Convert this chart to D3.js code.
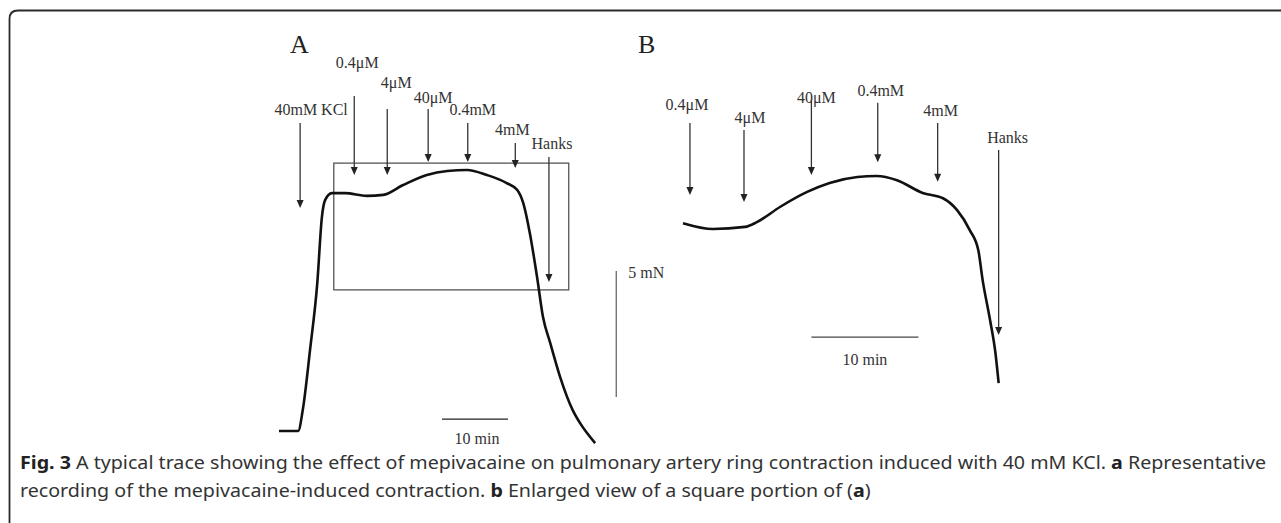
<!DOCTYPE html>
<html>
<head>
<meta charset="utf-8">
<script src="https://cdnjs.cloudflare.com/ajax/libs/d3/7.8.5/d3.min.js"></script>
<style>
  body { margin: 0; background: #fff; }
  svg { display: block; }
</style>
</head>
<body>
<div id="chart"></div>
<script>
// ---- data, panel A (time in min, tension in mN) ----
var traceAT = [0, 2.9, 3.6, 4.7, 5.8, 6.5, 7.0, 8.0, 10.0, 13.3, 15.8, 18.8, 22.4, 25.5, 28.5, 31.5, 34.5, 36.1, 37.0, 38.0, 39.1, 40.0, 41.1, 42.6, 44.5, 45.6, 47.9];
var traceAV = [0, 0, 0.83, 3.21, 5.87, 8.49, 9.17, 9.44, 9.44, 9.33, 9.37, 9.76, 10.16, 10.32, 10.36, 10.16, 9.84, 9.56, 9.05, 7.86, 6.11, 4.52, 3.49, 2.14, 0.83, 0.32, -0.48];

var arrowALabels = ["40mM KCl", "0.4\u03bcM", "4\u03bcM", "40\u03bcM", "0.4mM", "4mM", "Hanks"];
var arrowAT = [3.2, 11.4, 16.4, 22.6, 28.6, 35.8, 40.9];
var arrowATail = [12.22, 13.29, 12.78, 12.78, 12.22, 11.43, 10.87];
var arrowATip = [8.85, 10.16, 10.16, 10.67, 10.67, 10.44, 5.91];

// boxed portion shown enlarged in B
var boxAT = [8.3, 43.9];
var boxAV = [5.6, 10.63];

// ---- data, panel B ----
var traceBT = [0, 2.8, 5.8, 6.9, 9.1, 11.6, 13.7, 16.3, 18.1, 20.0, 22.4, 24.3, 25.6, 26.8, 27.6, 28.0, 28.7, 29.2, 29.5];
var traceBV = [9.47, 9.36, 9.40, 9.49, 9.78, 10.06, 10.23, 10.34, 10.36, 10.28, 10.04, 9.94, 9.72, 9.34, 8.96, 8.40, 7.64, 7.02, 6.45];

var arrowBLabels = ["0.4\u03bcM", "4\u03bcM", "40\u03bcM", "0.4mM", "4mM", "Hanks"];
var arrowBT = [0.65, 5.7, 12.0, 18.2, 23.8, 29.5];
var arrowBTail = [11.36, 11.23, 11.79, 11.74, 11.36, 10.85];
var arrowBTip = [10.0, 9.87, 10.38, 10.62, 10.25, 7.36];

// scale bars
var timeBar = 10;   // min
var forceBar = 5;   // mN

// label placement (px offsets from arrow tail), layout only
var labelADx = [11, 3, 9, 5, 5, -3, 3];
var labelADy = [-8, -28, -21, -6, -8, -8, -8];
var labelBDx = [-3, 6, 5, 3, 3, 9];
var labelBDy = [-13, -7, 3, -7, -7, -7];

var W = 1281, H = 523;
var svg = d3.select("#chart").append("svg")
    .attr("width", W)
    .attr("height", H);

// outer frame (rounded top-left, open to right / bottom)
svg.append("path")
    .attr("d", "M9.5,523 L9.5,19 Q9.5,10.5 18,10.5 L1281,10.5")
    .attr("fill", "none")
    .attr("stroke", "#2a2a2a")
    .attr("stroke-width", 1.8);

var serif = "'Liberation Serif', 'Times New Roman', serif";

// scales
var xA = d3.scaleLinear().domain([0, 50]).range([279, 279 + 50 * 6.6]);
var yA = d3.scaleLinear().domain([0, 10]).range([431, 431 - 252]);
var xB = d3.scaleLinear().domain([0, 30]).range([683, 683 + 30 * 10.7]);
var yB = d3.scaleLinear().domain([5, 11]).range([176 + 5.36 * 53, 176 - 0.64 * 53]);

var line = function (xs, ys) {
  return d3.line()
    .x(function (d) { return xs(d[0]); })
    .y(function (d) { return ys(d[1]); })
    .curve(d3.curveMonotoneX);
};

function drawArrows(g, labels, ts, tails, tips, xs, ys, ldx, ldy) {
  labels.forEach(function (lab, i) {
    var x = xs(ts[i]), y0 = ys(tails[i]), y1 = ys(tips[i]);
    g.append("line")
      .attr("x1", x).attr("x2", x)
      .attr("y1", y0).attr("y2", y1 - 6)
      .attr("stroke", "#333")
      .attr("stroke-width", 1.3);
    g.append("path")
      .attr("d", "M" + (x - 3.5) + "," + (y1 - 8) + " L" + (x + 3.5) + "," + (y1 - 8) + " L" + x + "," + y1 + " Z")
      .attr("fill", "#222");
    g.append("text")
      .attr("x", x + ldx[i])
      .attr("y", y0 + ldy[i])
      .attr("text-anchor", "middle")
      .attr("font-family", serif)
      .attr("font-size", 16)
      .attr("fill", "#333")
      .text(lab);
  });
}

// ---- panel A ----
var gA = svg.append("g");
gA.append("text").attr("x", 290).attr("y", 53)
  .attr("font-family", serif).attr("font-size", 26).attr("fill", "#222").text("A");

gA.append("rect")
  .attr("x", xA(boxAT[0])).attr("y", yA(boxAV[1]))
  .attr("width", xA(boxAT[1]) - xA(boxAT[0]))
  .attr("height", yA(boxAV[0]) - yA(boxAV[1]))
  .attr("fill", "none")
  .attr("stroke", "#555")
  .attr("stroke-width", 1.3);

drawArrows(gA, arrowALabels, arrowAT, arrowATail, arrowATip, xA, yA, labelADx, labelADy);

gA.append("path")
  .datum(d3.zip(traceAT, traceAV))
  .attr("d", line(xA, yA))
  .attr("fill", "none")
  .attr("stroke", "#111")
  .attr("stroke-width", 2.6);

// 5 mN bar
var fbX = xA(51.1), fbTop = yA(6.35);
gA.append("line")
  .attr("x1", fbX).attr("x2", fbX)
  .attr("y1", fbTop).attr("y2", fbTop + (yA(0) - yA(forceBar)))
  .attr("stroke", "#666").attr("stroke-width", 1.3);
gA.append("text").attr("x", fbX + 12).attr("y", fbTop + 7)
  .attr("font-family", serif).attr("font-size", 16).attr("fill", "#333").text(forceBar + " mN");

// 10 min bar A
var tbA0 = 24.7, tbAy = yA(-0.48) - 24;
gA.append("line")
  .attr("x1", xA(tbA0)).attr("x2", xA(tbA0 + timeBar))
  .attr("y1", tbAy).attr("y2", tbAy)
  .attr("stroke", "#222").attr("stroke-width", 1.3);
gA.append("text").attr("x", (xA(tbA0) + xA(tbA0 + timeBar)) / 2 + 2).attr("y", tbAy + 25)
  .attr("text-anchor", "middle")
  .attr("font-family", serif).attr("font-size", 16).attr("fill", "#333").text(timeBar + " min");

// ---- panel B ----
var gB = svg.append("g");
gB.append("text").attr("x", 638).attr("y", 53)
  .attr("font-family", serif).attr("font-size", 26).attr("fill", "#222").text("B");

drawArrows(gB, arrowBLabels, arrowBT, arrowBTail, arrowBTip, xB, yB, labelBDx, labelBDy);

gB.append("path")
  .datum(d3.zip(traceBT, traceBV))
  .attr("d", line(xB, yB))
  .attr("fill", "none")
  .attr("stroke", "#111")
  .attr("stroke-width", 2.6);

var tbB0 = 12.0, tbBy = yB(7.32);
gB.append("line")
  .attr("x1", xB(tbB0)).attr("x2", xB(tbB0 + timeBar))
  .attr("y1", tbBy).attr("y2", tbBy)
  .attr("stroke", "#444").attr("stroke-width", 1.3);
gB.append("text").attr("x", (xB(tbB0) + xB(tbB0 + timeBar)) / 2).attr("y", tbBy + 28)
  .attr("text-anchor", "middle")
  .attr("font-family", serif).attr("font-size", 16).attr("fill", "#333").text(timeBar + " min");

// ---- caption ----
var sans = "'Noto Sans', 'Open Sans', sans-serif";
var capG = svg.append("g");
var cap1 = capG.append("text").attr("x", 0).attr("y", 469)
  .attr("font-family", sans).attr("font-size", 17.5).attr("fill", "#333");
cap1.append("tspan").attr("font-weight", "bold").attr("fill", "#222").text("Fig. 3");
cap1.append("tspan").text(" A typical trace showing the effect of mepivacaine on pulmonary artery ring contraction induced with 40 mM KCl. ");
cap1.append("tspan").attr("font-weight", "bold").attr("fill", "#222").text("a");
cap1.append("tspan").text(" Representative");

var cap2 = capG.append("text").attr("x", 0).attr("y", 497)
  .attr("font-family", sans).attr("font-size", 17.5).attr("fill", "#333");
cap2.append("tspan").text("recording of the mepivacaine-induced contraction. ");
cap2.append("tspan").attr("font-weight", "bold").attr("fill", "#222").text("b");
cap2.append("tspan").text(" Enlarged view of a square portion of (");
cap2.append("tspan").attr("font-weight", "bold").attr("fill", "#222").text("a");
cap2.append("tspan").text(")");

// fit the first line to the text block width
var s = 1247 / cap1.node().getBBox().width;
capG.attr("transform", "translate(20,0) scale(" + s + ",1)");
</script>
</body>
</html>
